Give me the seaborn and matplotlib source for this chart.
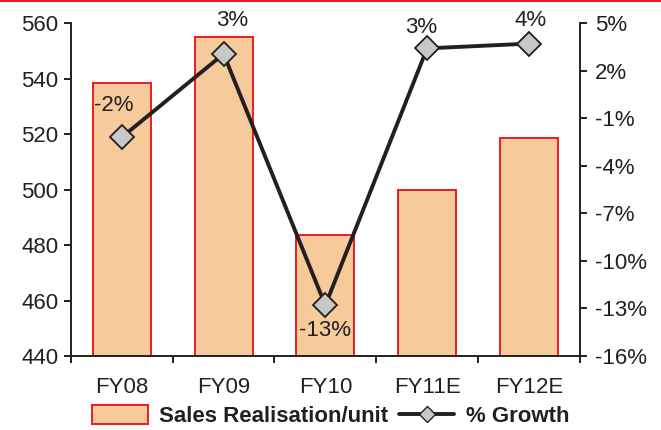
import numpy as np
import pandas as pd
import matplotlib
matplotlib.use("Agg")
import matplotlib.pyplot as plt
import seaborn as sns
from matplotlib.lines import Line2D
from matplotlib.patches import Patch
from matplotlib.ticker import FixedLocator

# Данные
years = ["FY08", "FY09", "FY10", "FY11E", "FY12E"]
realisation = [538.5, 554.8, 483.7, 500.0, 518.6]
growth = [-2.2, 3.05, -12.8, 3.4, 3.7]
growth_labels = ["-2%", "3%", "-13%", "3%", "4%"]

sns.set_style("white")
plt.rcParams["font.family"] = ["Liberation Sans", "DejaVu Sans"]

df = pd.DataFrame({"year": years, "value": realisation, "growth": growth,
                   "pos": np.arange(len(years))})

bar_color = "#f6ca9a"
edge_red = "#ed1c24"
dark = "#231f20"
fs = 16

fig = plt.figure(figsize=(6.61, 4.3), dpi=100)
ax = fig.add_axes([0.1074, 0.172, 0.7696, 0.7745])

sns.barplot(data=df, x="year", y="value", color=bar_color, edgecolor=edge_red,
            linewidth=1.4, width=0.57, saturation=1, ax=ax)
ax.set_ylim(440, 560)
ax.set_yticks(range(440, 561, 20))
ax.set_xlim(-0.5, len(years) - 0.5)
ax.set_xlabel("")
ax.set_ylabel("")

# Вторая ось: рост, %
ax2 = ax.twinx()
sns.lineplot(data=df, x="pos", y="growth", color=dark, linewidth=2.8,
             marker="D", markersize=12.5, markerfacecolor="#c8c8c8",
             markeredgecolor=dark, markeredgewidth=1.3, ax=ax2)
ax2.set_ylim(-16, 5)
ax2.set_yticks(range(-16, 6, 3))
ax2.set_yticklabels([f"{v}%" for v in range(-16, 6, 3)])
ax2.set_xlim(-0.5, len(years) - 0.5)
ax2.set_xlabel("")
ax2.set_ylabel("")

# Подписи значений
offsets = [(-6, 23), (6, 24), (0, -18), (-4, 15), (1, 17)]
for x, y, lab, (dx, dy) in zip(df["pos"], growth, growth_labels, offsets):
    ax2.annotate(lab, (x, y), xytext=(dx, dy), textcoords="offset points",
                 ha="center", va="center", fontsize=fs, color=dark)

# Оси и деления
for a in (ax, ax2):
    for s in a.spines.values():
        s.set_visible(False)
ax.spines["left"].set_visible(True)
ax.spines["bottom"].set_visible(True)
ax2.spines["right"].set_visible(True)
for s in (ax.spines["left"], ax.spines["bottom"], ax2.spines["right"]):
    s.set_color(dark)
    s.set_linewidth(1.4)

ax.tick_params(axis="y", which="both", left=True, direction="out", length=5,
               width=1.4, color=dark, labelsize=fs, labelcolor=dark, pad=4)
ax2.tick_params(axis="y", right=True, direction="out", length=5, width=1.4,
                color=dark, labelsize=fs, labelcolor=dark, pad=6)
ax.xaxis.set_minor_locator(FixedLocator(np.arange(-0.5, len(years), 1.0)))
ax.tick_params(axis="x", which="major", length=0, labelsize=fs,
               labelcolor=dark, pad=15)
ax.tick_params(axis="x", which="minor", bottom=True, direction="out",
               length=5, width=1.4, color=dark)

# Легенда
handles = [Patch(facecolor=bar_color, edgecolor=edge_red, linewidth=1.4),
           Line2D([0], [0], color=dark, linewidth=2.8, marker="D",
                  markersize=8, markerfacecolor="#c8c8c8",
                  markeredgecolor=dark)]
fig.legend(handles, ["Sales Realisation/unit", "% Growth"], ncol=2,
           loc="lower center", bbox_to_anchor=(0.5, -0.04), frameon=False,
           prop={"weight": "bold", "size": fs}, handlelength=2.5,
           handleheight=0.9, columnspacing=0.5, handletextpad=0.5,
           labelcolor=dark)

# Красная линия сверху
fig.add_artist(Line2D([0, 1], [0.998, 0.998], color=edge_red, linewidth=1.5,
                      transform=fig.transFigure))

fig.savefig("out.png", dpi=100)
